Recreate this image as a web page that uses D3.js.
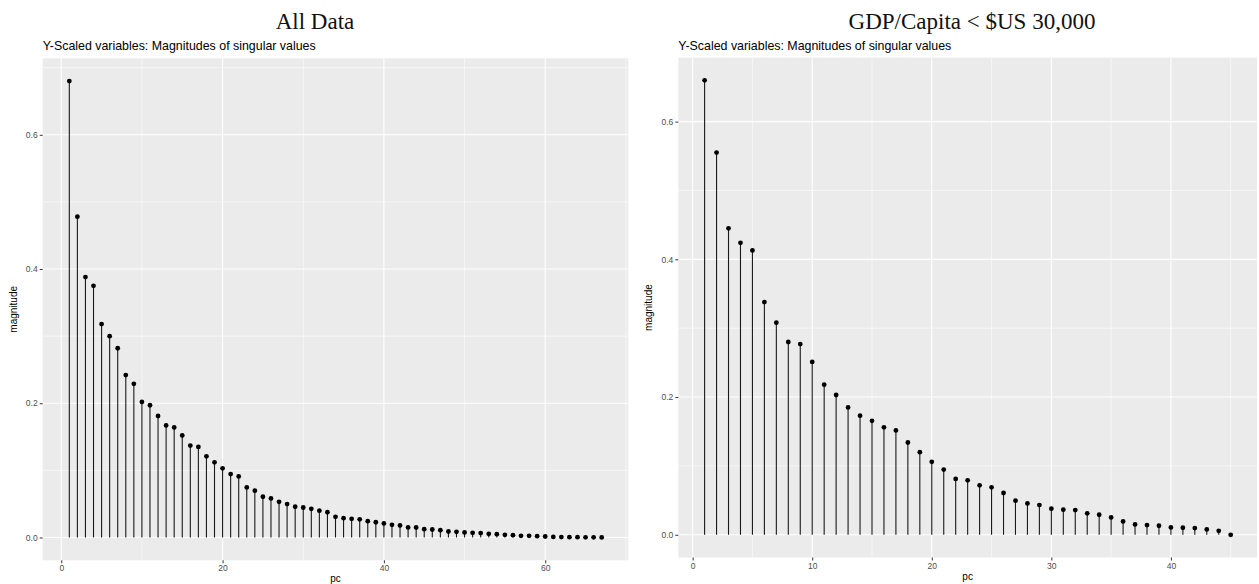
<!DOCTYPE html>
<html>
<head>
<meta charset="utf-8">
<script src="https://cdn.jsdelivr.net/npm/d3@7"></script>
<style>
  html, body { margin: 0; padding: 0; background: #fff; }
  svg { display: block; }
  .tick text { font-family: "Liberation Sans", Arial, sans-serif; }
</style>
</head>
<body>
<svg id="chart" width="1259" height="584"></svg>
<script>
// Singular value magnitudes, all countries (67 components)
const allPc = d3.range(1, 68);
const allMagnitude = [
  0.680, 0.478, 0.388, 0.375, 0.318, 0.300, 0.282, 0.242, 0.229, 0.202,
  0.197, 0.181, 0.167, 0.164, 0.152, 0.137, 0.135, 0.121, 0.112, 0.103,
  0.0945, 0.091, 0.0746, 0.0697, 0.0607, 0.0582, 0.0532, 0.0498, 0.0458, 0.0447,
  0.0427, 0.0400, 0.0376, 0.0308, 0.0288, 0.0278, 0.0271, 0.0243, 0.0227, 0.0209,
  0.0189, 0.0179, 0.0150, 0.0149, 0.0124, 0.0119, 0.0109, 0.0089, 0.0084, 0.0075,
  0.0070, 0.0065, 0.0055, 0.0050, 0.0040, 0.0035, 0.0025, 0.0025, 0.0020, 0.0015,
  0.0008, 0.0006, 0.0005, 0.0004, 0.0003, 0.0002, 0.0001
];

// Singular value magnitudes, countries with GDP/capita below US$30,000 (45 components)
const lowGdpPc = d3.range(1, 46);
const lowGdpMagnitude = [
  0.660, 0.555, 0.445, 0.424, 0.413, 0.338, 0.308, 0.280, 0.277, 0.251,
  0.218, 0.203, 0.185, 0.173, 0.1655, 0.156, 0.1515, 0.134, 0.120, 0.106,
  0.0947, 0.0811, 0.0791, 0.0718, 0.0689, 0.0607, 0.0495, 0.0456, 0.0432, 0.0379,
  0.0364, 0.0359, 0.0311, 0.0291, 0.0252, 0.0194, 0.0150, 0.0141, 0.0131, 0.0107,
  0.0102, 0.0097, 0.0078, 0.0058, 0.0000
];

const allXTicks = [0, 20, 40, 60];
const allXMinor = [10, 30, 50, 70];
const lowXTicks = [0, 10, 20, 30, 40];
const lowXMinor = [5, 15, 25, 35, 45];
const yTicks = [0.0, 0.2, 0.4, 0.6];
const yMinor = [0.1, 0.3, 0.5, 0.7];

const headingAll = "All Data";
const headingLow = "GDP/Capita < $US 30,000";
const subtitle = "Y-Scaled variables: Magnitudes of singular values";
const xTitle = "pc";
const yTitle = "magnitude";

const svg = d3.select("#chart");

function panel(opt) {
  const { left, right, top, bottom, pcs, values, xTicks, xMinor, heading, headingX } = opt;
  const g = svg.append("g");

  // ggplot-style 5% expansion of the data range
  const xr = d3.extent(pcs), xpad = (xr[1] - xr[0]) * 0.05;
  const yr = [0, d3.max(values)], ypad = (yr[1] - yr[0]) * 0.05;
  const x = d3.scaleLinear().domain([xr[0] - xpad, xr[1] + xpad]).range([left, right]);
  const y = d3.scaleLinear().domain([yr[0] - ypad, yr[1] + ypad]).range([bottom, top]);

  // panel background
  g.append("rect")
    .attr("x", left).attr("y", top)
    .attr("width", right - left).attr("height", bottom - top)
    .attr("fill", "#EBEBEB");

  const yDom = y.domain(), xDom = x.domain();
  const inY = v => v >= yDom[0] && v <= yDom[1];
  const inX = v => v >= xDom[0] && v <= xDom[1];

  // minor grid
  g.selectAll(".ymin").data(yMinor.filter(inY)).enter().append("line")
    .attr("x1", left).attr("x2", right)
    .attr("y1", d => y(d)).attr("y2", d => y(d))
    .attr("stroke", "#fff").attr("stroke-width", 0.55);
  g.selectAll(".xmin").data(xMinor.filter(inX)).enter().append("line")
    .attr("y1", top).attr("y2", bottom)
    .attr("x1", d => x(d)).attr("x2", d => x(d))
    .attr("stroke", "#fff").attr("stroke-width", 0.55);
  // major grid
  g.selectAll(".ymaj").data(yTicks).enter().append("line")
    .attr("x1", left).attr("x2", right)
    .attr("y1", d => y(d)).attr("y2", d => y(d))
    .attr("stroke", "#fff").attr("stroke-width", 1.1);
  g.selectAll(".xmaj").data(xTicks).enter().append("line")
    .attr("y1", top).attr("y2", bottom)
    .attr("x1", d => x(d)).attr("x2", d => x(d))
    .attr("stroke", "#fff").attr("stroke-width", 1.1);

  const data = pcs.map((p, i) => ({ pc: p, v: values[i] }));

  // stems
  g.selectAll(".stem").data(data).enter().append("line")
    .attr("x1", d => x(d.pc)).attr("x2", d => x(d.pc))
    .attr("y1", y(0)).attr("y2", d => y(d.v))
    .attr("stroke", "#1a1a1a").attr("stroke-width", 1.1);
  // points
  g.selectAll(".pt").data(data).enter().append("circle")
    .attr("cx", d => x(d.pc)).attr("cy", d => y(d.v))
    .attr("r", 2.4).attr("fill", "#000");

  // axes
  const xAxis = d3.axisBottom(x).tickValues(xTicks).tickFormat(d3.format("d"))
    .tickSize(3).tickPadding(2);
  const ax = g.append("g").attr("transform", `translate(0,${bottom})`).call(xAxis);
  ax.select(".domain").remove();
  ax.selectAll(".tick line").attr("stroke", "#333");
  ax.selectAll(".tick text").attr("fill", "#4D4D4D").attr("font-size", 8.5);

  const yAxis = d3.axisLeft(y).tickValues(yTicks).tickFormat(d3.format(".1f"))
    .tickSize(3).tickPadding(2);
  const ay = g.append("g").attr("transform", `translate(${left},0)`).call(yAxis);
  ay.select(".domain").remove();
  ay.selectAll(".tick line").attr("stroke", "#333");
  ay.selectAll(".tick text").attr("fill", "#4D4D4D").attr("font-size", 8.5);

  // titles
  g.append("text")
    .attr("x", (left + right) / 2).attr("y", bottom + 22)
    .attr("text-anchor", "middle")
    .attr("font-family", "Liberation Sans, Arial, sans-serif")
    .attr("font-size", 10).attr("fill", "#000")
    .text(xTitle);
  g.append("text")
    .attr("transform", `translate(${left - 26},${(top + bottom) / 2}) rotate(-90)`)
    .attr("text-anchor", "middle")
    .attr("font-family", "Liberation Sans, Arial, sans-serif")
    .attr("font-size", 10).attr("fill", "#000")
    .text(yTitle);
  g.append("text")
    .attr("x", left).attr("y", top - 8)
    .attr("font-family", "Liberation Sans, Arial, sans-serif")
    .attr("font-size", 12.4).attr("fill", "#000")
    .text(subtitle);
  g.append("text")
    .attr("x", headingX).attr("y", 29)
    .attr("text-anchor", "middle")
    .attr("font-family", "Liberation Serif, Times New Roman, serif")
    .attr("font-size", 23).attr("fill", "#111")
    .text(heading);
}

panel({
  left: 42.7, right: 628.3, top: 58.3, bottom: 560.3,
  pcs: allPc, values: allMagnitude,
  xTicks: allXTicks, xMinor: allXMinor,
  heading: headingAll, headingX: 315
});

panel({
  left: 678.3, right: 1257, top: 57.6, bottom: 557.5,
  pcs: lowGdpPc, values: lowGdpMagnitude,
  xTicks: lowXTicks, xMinor: lowXMinor,
  heading: headingLow, headingX: 972
});
</script>
</body>
</html>
